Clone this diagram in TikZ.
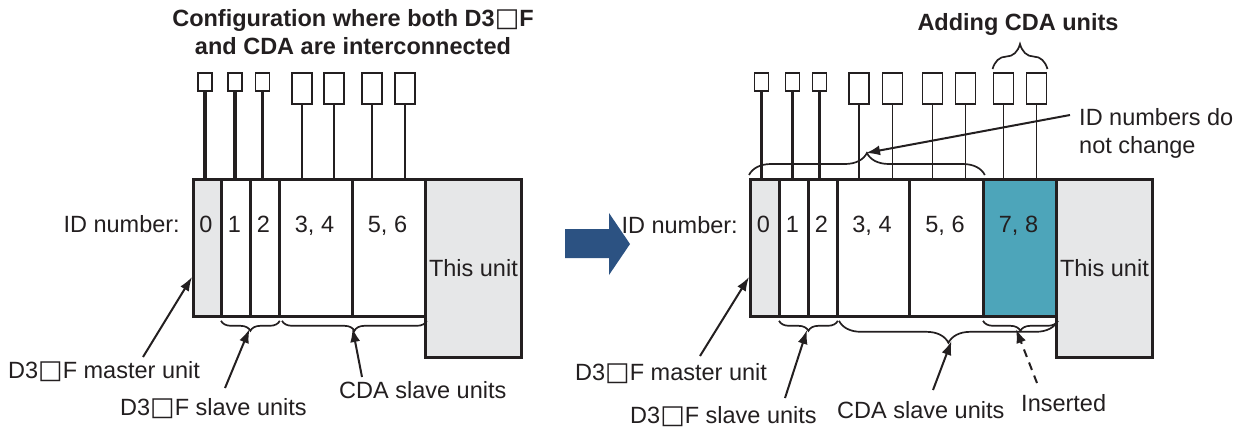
\documentclass[tikz,border=0pt]{standalone}
\usepackage{fontspec}
\setmainfont{Liberation Sans}
\newfontfamily\symf{DejaVu Sans}
\usetikzlibrary{arrows.meta,decorations.pathreplacing,calc}
\definecolor{ln}{HTML}{231F20}
\definecolor{gfill}{HTML}{E6E7E8}
\definecolor{insblue}{RGB}{77,165,186}
\definecolor{arrblue}{RGB}{44,82,130}
\newcommand{\sq}{{\symf\fontsize{26}{26}\selectfont □}}
\begin{document}
\begin{tikzpicture}[x=1pt,y=-1pt,
  font=\fontsize{23.5}{28}\selectfont, text=ln,
  unit/.style={draw=ln, line width=2.8pt, minimum height=137, inner sep=0pt, anchor=north west, fill=white},
  cabS/.style={draw=ln, line width=1.9pt, minimum width=14, minimum height=18, inner sep=0pt, fill=white},
  cabB/.style={draw=ln, line width=1.9pt, minimum width=20, minimum height=31, inner sep=0pt, fill=white},
  thickc/.style={draw=ln, line width=3.6pt},
  thinc/.style={draw=ln, line width=1.9pt},
  brc/.style={draw=ln, line width=1.7pt, decorate, decoration={brace, amplitude=#1}},
  brcd/.style={draw=ln, line width=1.7pt, decorate, decoration={brace, amplitude=#1, mirror}},
  arr/.style={draw=ln, line width=2pt, -{Latex[length=14pt,width=10pt]}},
  num/.style={inner sep=0pt, anchor=base},
  lbl/.style={inner sep=0pt, anchor=base west},
  ttl/.style={inner sep=0pt, font=\fontsize{23.5}{28}\selectfont\bfseries, align=center}
]
\useasboundingbox (0,0) rectangle (1246,432);

% ---------- titles ----------
\node[ttl] (T1) at (353,32.5) {Configuration where both D3\sq F\\and CDA are interconnected};
\node[ttl, anchor=base] (T2) at (1018,30) {Adding CDA units};

% ---------- left: cables ----------
\node[cabS] (LC0) at (205,82) {};
\node[cabS] (LC1) at (235,82) {};
\node[cabS] (LC2) at (262.5,82) {};
\node[cabB] (LC3) at (302,88.5) {};
\node[cabB] (LC4) at (334,88.5) {};
\node[cabB] (LC5) at (372,88.5) {};
\node[cabB] (LC6) at (405,88.5) {};

% ---------- left: units ----------
\node[unit, fill=gfill, minimum width=28] (L0) at (192,178) {};
\node[unit, minimum width=29] (L1) at (220,178) {};
\node[unit, minimum width=29] (L2) at (249,178) {};
\node[unit, minimum width=73] (L34) at (278,178) {};
\node[unit, minimum width=73] (L56) at (351,178) {};
\node[unit, fill=gfill, minimum width=96, minimum height=178] (LT) at (424,178) {This unit};

\draw[thickc] (LC0.south) -- (LC0.south |- L0.north);
\draw[thickc] (LC1.south) -- (LC1.south |- L1.north);
\draw[thickc] (LC2.south) -- (LC2.south |- L2.north);
\draw[thinc] (LC3.south) -- (LC3.south |- L34.north);
\draw[thinc] (LC4.south) -- (LC4.south |- L34.north);
\draw[thinc] (LC5.south) -- (LC5.south |- L56.north);
\draw[thinc] (LC6.south) -- (LC6.south |- L56.north);

\node[num] (Ln0) at (206,232) {0};
\node[num] (Ln1) at (234.5,232) {1};
\node[num] (Ln2) at (263.5,232) {2};
\node[num] (Ln3) at (314.5,232) {3, 4};
\node[num] (Ln5) at (387.5,232) {5, 6};
\node[inner sep=0pt, anchor=base east] (LID) at (180,232) {ID number:};

% braces left
\draw[brcd=10pt] ([xshift=1pt,yshift=-3pt]L1.south west) -- ([xshift=-1pt,yshift=-3pt]L2.south east);
\draw[brcd=10pt] ([xshift=4pt,yshift=-3pt]L34.south west) -- ([yshift=-3pt]L56.south east);

% labels left
\node[lbl] (LMl) at (8,378) {D3\sq F master unit};
\node[lbl] (LSl) at (120,415) {D3\sq F slave units};
\node[lbl] (LCl) at (339,398) {CDA slave units};

\coordinate (LMt) at (143,357);
\coordinate (LMh) at (192,277);
\coordinate (LSt) at (225,388);
\coordinate (LSh) at (249.5,329);
\coordinate (LCt) at (362,377);
\coordinate (LCh) at (352.5,328);
\draw[arr] (LMt) -- (LMh);
\draw[arr] (LSt) -- (LSh);
\draw[arr] (LCt) -- (LCh);

% ---------- big blue arrow ----------
\fill[arrblue] (565,229) -- (609,229) -- (609,213) -- (630,244) -- (609,275) -- (609,258) -- (565,258) -- cycle;

% ---------- right: cables ----------
\node[cabS] (RC0) at (761.5,82) {};
\node[cabS] (RC1) at (792.5,82) {};
\node[cabS] (RC2) at (819.5,82) {};
\node[cabB] (RC3) at (859,88.5) {};
\node[cabB] (RC4) at (892.5,88.5) {};
\node[cabB] (RC5) at (932.5,88.5) {};
\node[cabB] (RC6) at (965.5,88.5) {};
\node[cabB] (RC7) at (1003.5,88.5) {};
\node[cabB] (RC8) at (1036.5,88.5) {};

% ---------- right: units ----------
\node[unit, fill=gfill, minimum width=29] (R0) at (749,178) {};
\node[unit, minimum width=29] (R1) at (778,178) {};
\node[unit, minimum width=29] (R2) at (807,178) {};
\node[unit, minimum width=72] (R34) at (836,178) {};
\node[unit, minimum width=74] (R56) at (908,178) {};
\node[unit, fill=insblue, minimum width=73] (R78) at (982,178) {};
\node[unit, fill=gfill, minimum width=96, minimum height=178] (RT) at (1055,178) {This unit};

\draw[thickc] (RC0.south) -- (RC0.south |- R0.north);
\draw[thickc] (RC1.south) -- (RC1.south |- R1.north);
\draw[thickc] (RC2.south) -- (RC2.south |- R2.north);
\draw[thinc] (RC3.south) -- (RC3.south |- R34.north);
\draw[thinc] (RC4.south) -- (RC4.south |- R34.north);
\draw[thinc] (RC5.south) -- (RC5.south |- R56.north);
\draw[thinc] (RC6.south) -- (RC6.south |- R56.north);
\draw[thinc] (RC7.south) -- (RC7.south |- R78.north);
\draw[thinc] (RC8.south) -- (RC8.south |- R78.north);

\node[num] (Rn0) at (763.5,232) {0};
\node[num] (Rn1) at (792.5,232) {1};
\node[num] (Rn2) at (821.5,232) {2};
\node[num] (Rn3) at (872,232) {3, 4};
\node[num] (Rn5) at (945,232) {5, 6};
\node[num] (Rn7) at (1018.5,232) {7, 8};
\node[inner sep=0pt, anchor=base east] (RID) at (738,233) {ID number:};

% braces right
\draw[brc=22pt] ([yshift=3pt]R0.north west) -- ([yshift=3pt]R56.north east);
\draw[brc=25pt] ([yshift=3pt]RC7.north west) -- ([yshift=3pt]RC8.north east);
\draw[brcd=10pt] ([xshift=1pt,yshift=-3pt]R1.south west) -- ([xshift=-1pt,yshift=-3pt]R2.south east);
\draw[brcd=22pt] ([xshift=3pt,yshift=-3pt]R34.south west) -- ([yshift=-3pt]R78.south east);
\draw[brcd=10pt] ([xshift=1pt,yshift=-3pt]R78.south west) -- ([yshift=-3pt]R78.south east);

% labels right
\node[lbl] (RMl) at (575,380) {D3\sq F master unit};
\node[lbl] (RSl) at (630,423) {D3\sq F slave units};
\node[lbl] (RCl) at (837,418) {CDA slave units};
\node[lbl] (RIl) at (1021,411) {Inserted};
\node[inner sep=0pt, anchor=north west, align=left] (RNl) at (1079,108) {ID numbers do\\not change};

\coordinate (RMt) at (700,356);
\coordinate (RMh) at (749,277);
\coordinate (RSt) at (785,398);
\coordinate (RSh) at (807,330);
\coordinate (RCt) at (933,390);
\coordinate (RCh) at (951.5,341);
\coordinate (RIt) at (1037,383);
\coordinate (RIh) at (1016,329);
\coordinate (RNt) at (1070,115);
\coordinate (RNh) at (866,153);
\draw[arr] (RMt) -- (RMh);
\draw[arr] (RSt) -- (RSh);
\draw[arr] (RCt) -- (RCh);
\draw[arr, dash pattern=on 8pt off 6pt] (RIt) -- (RIh);
\draw[arr] (RNt) -- (RNh);
\end{tikzpicture}
\end{document}
